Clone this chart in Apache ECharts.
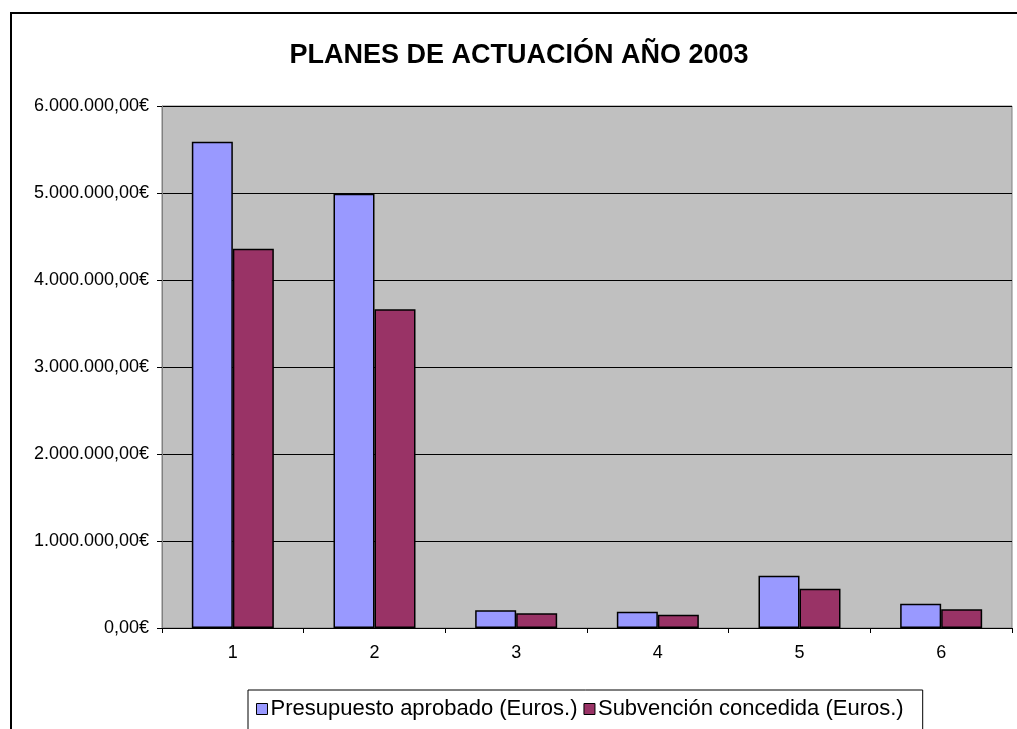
<!DOCTYPE html>
<html>
<head>
<meta charset="utf-8">
<script src="https://cdn.jsdelivr.net/npm/echarts@6/dist/echarts.min.js"></script>
<style>
html,body{margin:0;padding:0;background:#fff;}
#frame{position:absolute;left:10px;top:12px;width:1100px;height:800px;border-left:2px solid #000;border-top:2px solid #000;}
#chart{position:absolute;left:0;top:0;width:1017px;height:729px;}
</style>
</head>
<body>
<div id="frame"></div>
<div id="chart"></div>
<script>
const categories = ['1', '2', '3', '4', '5', '6'];
const presupuesto = [5590000, 4990000, 205000, 188000, 600000, 280000];
const subvencion = [4360000, 3665000, 170000, 152000, 450000, 215000];
const seriesNames = ['Presupuesto aprobado (Euros.)', 'Subvención concedida (Euros.)'];
const titleText = 'PLANES DE ACTUACIÓN AÑO 2003';

function fmtEuro(v) {
  const s = Math.round(v).toString().replace(/\B(?=(\d{3})+(?!\d))/g, '.');
  return s + ',00€';
}

const chart = echarts.init(document.getElementById('chart'), null, {renderer: 'canvas'});
chart.setOption({
  backgroundColor: 'transparent',
  animation: false,
  title: {
    text: titleText,
    left: 514, top: 37, textAlign: 'center',
    textStyle: {fontFamily: 'Liberation Sans, Arial', fontWeight: 'bold', fontSize: 27, color: '#000'}
  },
  grid: {
    left: 162, top: 106, right: 5, bottom: 101,
    show: true, backgroundColor: '#C0C0C0', borderColor: '#808080', borderWidth: 1
  },
  legend: {
    data: seriesNames,
    left: 248, top: 690,
    padding: [8, 19, 14, 8],
    itemGap: 6,
    itemWidth: 11, itemHeight: 11,
    icon: 'rect',
    borderColor: '#000', borderWidth: 1,
    backgroundColor: '#fff',
    textStyle: {fontFamily: 'Liberation Sans, Arial', fontSize: 22, color: '#000', padding: [0, 0, 0, -2]},
    itemStyle: {borderColor: '#000', borderWidth: 1}
  },
  xAxis: {
    type: 'category',
    data: categories,
    axisLine: {lineStyle: {color: '#000', width: 1}},
    axisTick: {show: true, length: 5, alignWithLabel: false, lineStyle: {color: '#000'}},
    axisLabel: {margin: 16, fontFamily: 'Liberation Sans, Arial', fontSize: 18, color: '#000'}
  },
  yAxis: {
    type: 'value',
    min: 0, max: 6000000, interval: 1000000,
    axisLine: {show: true, lineStyle: {color: '#808080', width: 1}},
    axisTick: {show: true, length: 5, lineStyle: {color: '#000'}},
    splitLine: {show: true, lineStyle: {color: '#000', width: 1}},
    axisLabel: {margin: 13, fontFamily: 'Liberation Sans, Arial', fontSize: 18, color: '#000', formatter: fmtEuro}
  },
  series: [
    {
      name: seriesNames[0], type: 'bar', data: presupuesto,
      barWidth: 41, barGap: '0%',
      itemStyle: {color: '#9999FF', borderColor: '#000', borderWidth: 1.5}
    },
    {
      name: seriesNames[1], type: 'bar', data: subvencion,
      barWidth: 41, barGap: '0%',
      itemStyle: {color: '#993366', borderColor: '#000', borderWidth: 1.5}
    }
  ]
});
</script>
</body>
</html>
